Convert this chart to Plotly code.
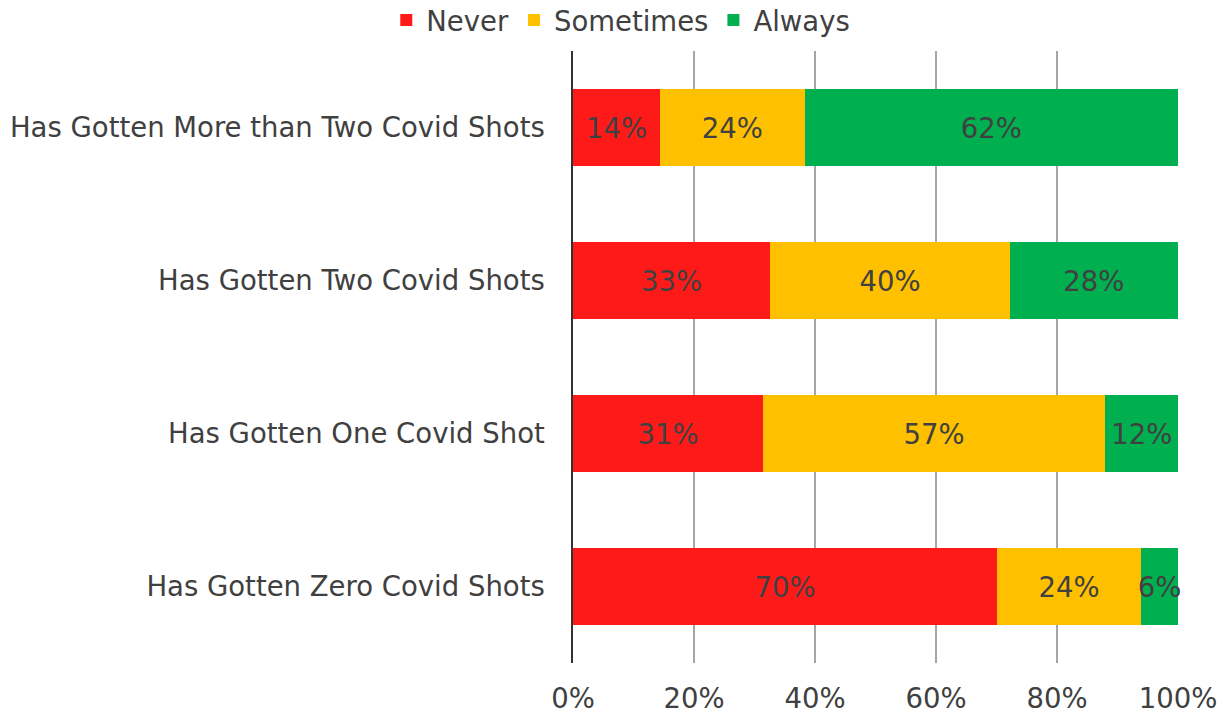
import plotly.graph_objects as go

categories = [
    "Has Gotten Zero Covid Shots",
    "Has Gotten One Covid Shot",
    "Has Gotten Two Covid Shots",
    "Has Gotten More than Two Covid Shots",
]
never = [70.1, 31.4, 32.6, 14.4]
sometimes = [23.8, 56.6, 39.6, 23.9]
always = [6.1, 12.0, 27.8, 61.7]
tick_vals = [0, 20, 40, 60, 80, 100]
tick_text = ["0%", "20%", "40%", "60%", "80%", "100%"]

series = [
    ("Never", never, "#FF1A1A"),
    ("Sometimes", sometimes, "#FFC000"),
    ("Always", always, "#00B050"),
]

FONT = "DejaVu Sans"
TXT = "#404040"
FS = 27.5

fig = go.Figure()
for name, vals, color in series:
    fig.add_trace(go.Bar(
        name=name, y=categories, x=vals, orientation="h",
        marker=dict(color=color, line=dict(width=0)),
        text=[f"{int(v + 0.5)}%" for v in vals],
        textposition="inside", insidetextanchor="middle", textangle=0,
        textfont=dict(family=FONT, size=FS, color=TXT),
        constraintext="none", cliponaxis=False,
    ))

fig.update_layout(
    barmode="stack", bargap=0.5,
    width=1222, height=719,
    paper_bgcolor="white", plot_bgcolor="white",
    margin=dict(l=573, r=44, t=51, b=56, autoexpand=False),
    font=dict(family=FONT, size=FS, color=TXT),
    legend=dict(
        orientation="h", x=0.508, xanchor="center", xref="container",
        y=0.972, yanchor="middle", yref="container",
        font=dict(family=FONT, size=FS, color=TXT),
        traceorder="normal", itemwidth=30,
    ),
    xaxis=dict(
        range=[0, 100], tickvals=tick_vals, ticktext=tick_text,
        showgrid=True, gridcolor="#A6A6A6", gridwidth=1.5,
        zeroline=False, showline=False, ticks="",
        ticklabelstandoff=16,
        tickfont=dict(family=FONT, size=FS, color=TXT),
        layer="above traces",
        automargin=False,
    ),
    yaxis=dict(
        showline=True, linecolor="#333333", linewidth=1.5,
        ticks="", ticklabelstandoff=21,
        tickfont=dict(family=FONT, size=FS, color=TXT),
        automargin=False,
    ),
)

fig.write_html(
    "out.html",
    config={"displayModeBar": False},
    post_script="document.body.style.margin='0';document.body.style.overflow='hidden';",
)
